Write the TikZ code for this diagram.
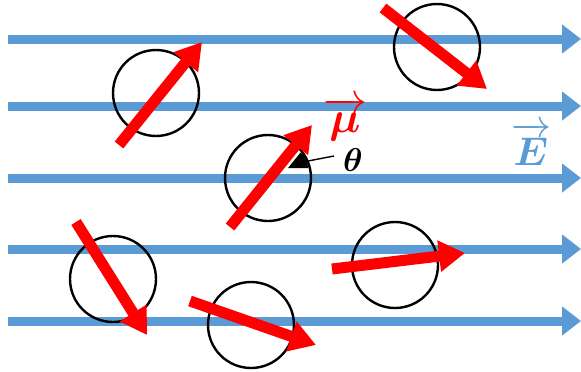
\RequirePackage{fix-cm}
\documentclass[tikz,border=0pt]{standalone}
\usepackage{amsmath,bm}
\usetikzlibrary{arrows.meta}
\definecolor{fieldblue}{RGB}{91,155,213}
\definecolor{dipred}{RGB}{255,0,0}
\begin{document}
\begin{tikzpicture}[x=1pt,y=-1pt,
  fieldline/.style={draw=fieldblue,line width=9pt,-{Triangle[length=19pt,width=28pt]}},
  ring/.style={circle,draw=black,line width=2.4pt,minimum size=86pt,inner sep=0pt},
  dipole/.style={draw=dipred,line width=11pt,-{Triangle[length=26pt,width=30pt]}},
  lbl/.style={inner sep=0pt}]
\useasboundingbox (0,0) rectangle (581,372);
% field lines
\foreach \n/\y in {1/39,2/106,3/178,4/249,5/321}{
  \coordinate (fs\n) at (8,\y);
  \coordinate (fe\n) at (581,\y);
  \draw[fieldline] (fs\n) -- (fe\n);
}
% circles
\node[ring] (c1) at (156,93) {};
\node[ring] (c2) at (268,178) {};
\node[ring] (c3) at (437,47) {};
\node[ring] (c4) at (113,279) {};
\node[ring] (c5) at (251,325) {};
\node[ring] (c6) at (395,265) {};
% dipole arrows
\coordinate (t1) at (119,145); \coordinate (h1) at (202,42);
\coordinate (t2) at (230,227); \coordinate (h2) at (312,125);
\coordinate (t3) at (383,8);   \coordinate (h3) at (487,89);
\coordinate (t4) at (76,222);  \coordinate (h4) at (147,335);
\coordinate (t5) at (190,301); \coordinate (h5) at (316,345);
\coordinate (t6) at (332,269); \coordinate (h6) at (465,253);
\foreach \i in {1,...,6}{\draw[dipole] (t\i) -- (h\i);}
% angle wedge
\coordinate (v) at (288,168);
\fill[black] (v) -- ++(20,0) arc[start angle=0,end angle=-51,radius=20] -- cycle;
% theta label
\node[lbl] (th) at (353,160) {\fontsize{33}{33}\selectfont$\bm{\theta}$};
\coordinate (w) at (308,161);
\coordinate (w2) at (334,156);
\draw[line width=1.4pt] (w) -- (w2);
% mu label
\node[lbl,text=dipred] (mu) at (345,119) {\fontsize{44}{44}\selectfont$\overrightarrow{\bm{\mu}}$};
% E label
\node[lbl,text=fieldblue] (E) at (531,144) {\fontsize{40}{40}\selectfont$\overrightarrow{\bm{E}}$};
\end{tikzpicture}
\end{document}
